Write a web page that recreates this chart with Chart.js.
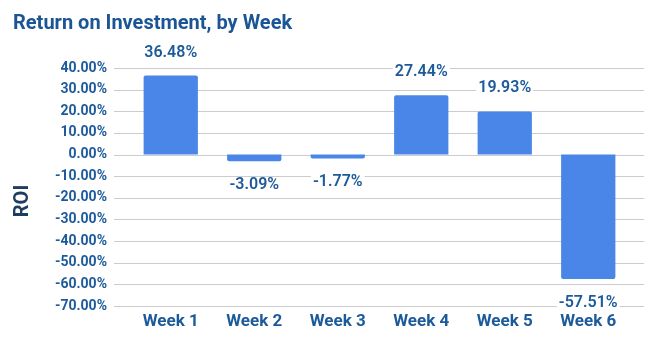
<!DOCTYPE html>
<html>
<head>
<meta charset="utf-8">
<script src="https://cdn.jsdelivr.net/npm/chart.js@4"></script>
<style>
  html, body { margin: 0; padding: 0; background: #fff; }
  #wrap { width: 658px; height: 349px; position: relative; }
</style>
</head>
<body>
<div id="wrap"><canvas id="roi"></canvas></div>
<script>
const weeks = ["Week 1", "Week 2", "Week 3", "Week 4", "Week 5", "Week 6"];
const roi = [36.48, -3.09, -1.77, 27.44, 19.93, -57.51];
const yMin = -70;
const yMax = 40;
const yStep = 10;

const blue = "#4a86e8";
const ink = "#1c5a9a";
const navy = "#1f3d5e";
const grid = "#cccccc";
const font = "Roboto, 'Noto Sans', sans-serif";

const fmt = (v) => v.toFixed(2) + "%";

// grid lines run a bit past the plot area on both sides
const gridLines = {
  id: "gridLines",
  beforeDatasetsDraw(chart) {
    const { ctx, chartArea, scales } = chart;
    ctx.save();
    ctx.strokeStyle = grid;
    ctx.lineWidth = 1;
    for (const t of scales.y.ticks) {
      const y = Math.round(scales.y.getPixelForValue(t.value)) + 0.5;
      ctx.beginPath();
      ctx.moveTo(chartArea.left - 15, y);
      ctx.lineTo(chartArea.right + 14, y);
      ctx.stroke();
    }
    ctx.restore();
  },
};

const valueLabels = {
  id: "valueLabels",
  afterDatasetsDraw(chart) {
    const { ctx } = chart;
    const meta = chart.getDatasetMeta(0);
    ctx.save();
    ctx.font = `600 16px ${font}`;
    ctx.textAlign = "center";
    ctx.textBaseline = "middle";
    meta.data.forEach((bar, i) => {
      const v = roi[i];
      const txt = fmt(v);
      const y = v >= 0 ? bar.y - 23 : bar.y + 24;
      const w = ctx.measureText(txt).width;
      ctx.fillStyle = "#fff";
      ctx.fillRect(bar.x - w / 2 - 2, y - 8, w + 4, 16);
      ctx.fillStyle = ink;
      ctx.fillText(txt, bar.x, y);
    });
    ctx.restore();
  },
};

const axisTitle = {
  id: "axisTitle",
  afterDraw(chart) {
    const { ctx, chartArea } = chart;
    ctx.save();
    ctx.translate(23, (chartArea.top + chartArea.bottom) / 2 + 14);
    ctx.rotate(-Math.PI / 2);
    ctx.font = `bold 20px ${font}`;
    ctx.fillStyle = navy;
    ctx.textAlign = "center";
    ctx.textBaseline = "middle";
    ctx.fillText("ROI", 0, 0);
    ctx.restore();
  },
};

new Chart(document.getElementById("roi"), {
  type: "bar",
  data: {
    labels: weeks,
    datasets: [
      {
        label: "ROI",
        data: roi,
        backgroundColor: blue,
        borderRadius: 2,
        barPercentage: 0.65,
        categoryPercentage: 1,
      },
    ],
  },
  options: {
    responsive: true,
    maintainAspectRatio: false,
    animation: false,
    layout: { padding: { left: 13, right: 28, top: 0, bottom: 0 } },
    plugins: {
      legend: { display: false },
      tooltip: { enabled: false },
      title: {
        display: true,
        text: "Return on Investment, by Week",
        align: "start",
        color: "#1b5595",
        font: { family: font, size: 20, weight: "bold", lineHeight: 1.2 },
        padding: { top: 12, bottom: 32 },
      },
    },
    scales: {
      x: {
        afterFit(scale) {
          scale.height = 43;
        },
        grid: { display: false, drawTicks: false },
        border: { display: false },
        ticks: {
          color: ink,
          padding: 6,
          font: { family: font, size: 17, weight: "bold" },
        },
      },
      y: {
        min: yMin,
        max: yMax,
        afterFit(scale) {
          scale.width = 116;
        },
        grid: { display: false, drawTicks: false },
        border: { display: false },
        ticks: {
          stepSize: yStep,
          color: ink,
          padding: 22,
          font: { family: font, size: 14, weight: "bold" },
          callback: (v) => fmt(v),
        },
      },
    },
  },
  plugins: [gridLines, valueLabels, axisTitle],
});
</script>
</body>
</html>
